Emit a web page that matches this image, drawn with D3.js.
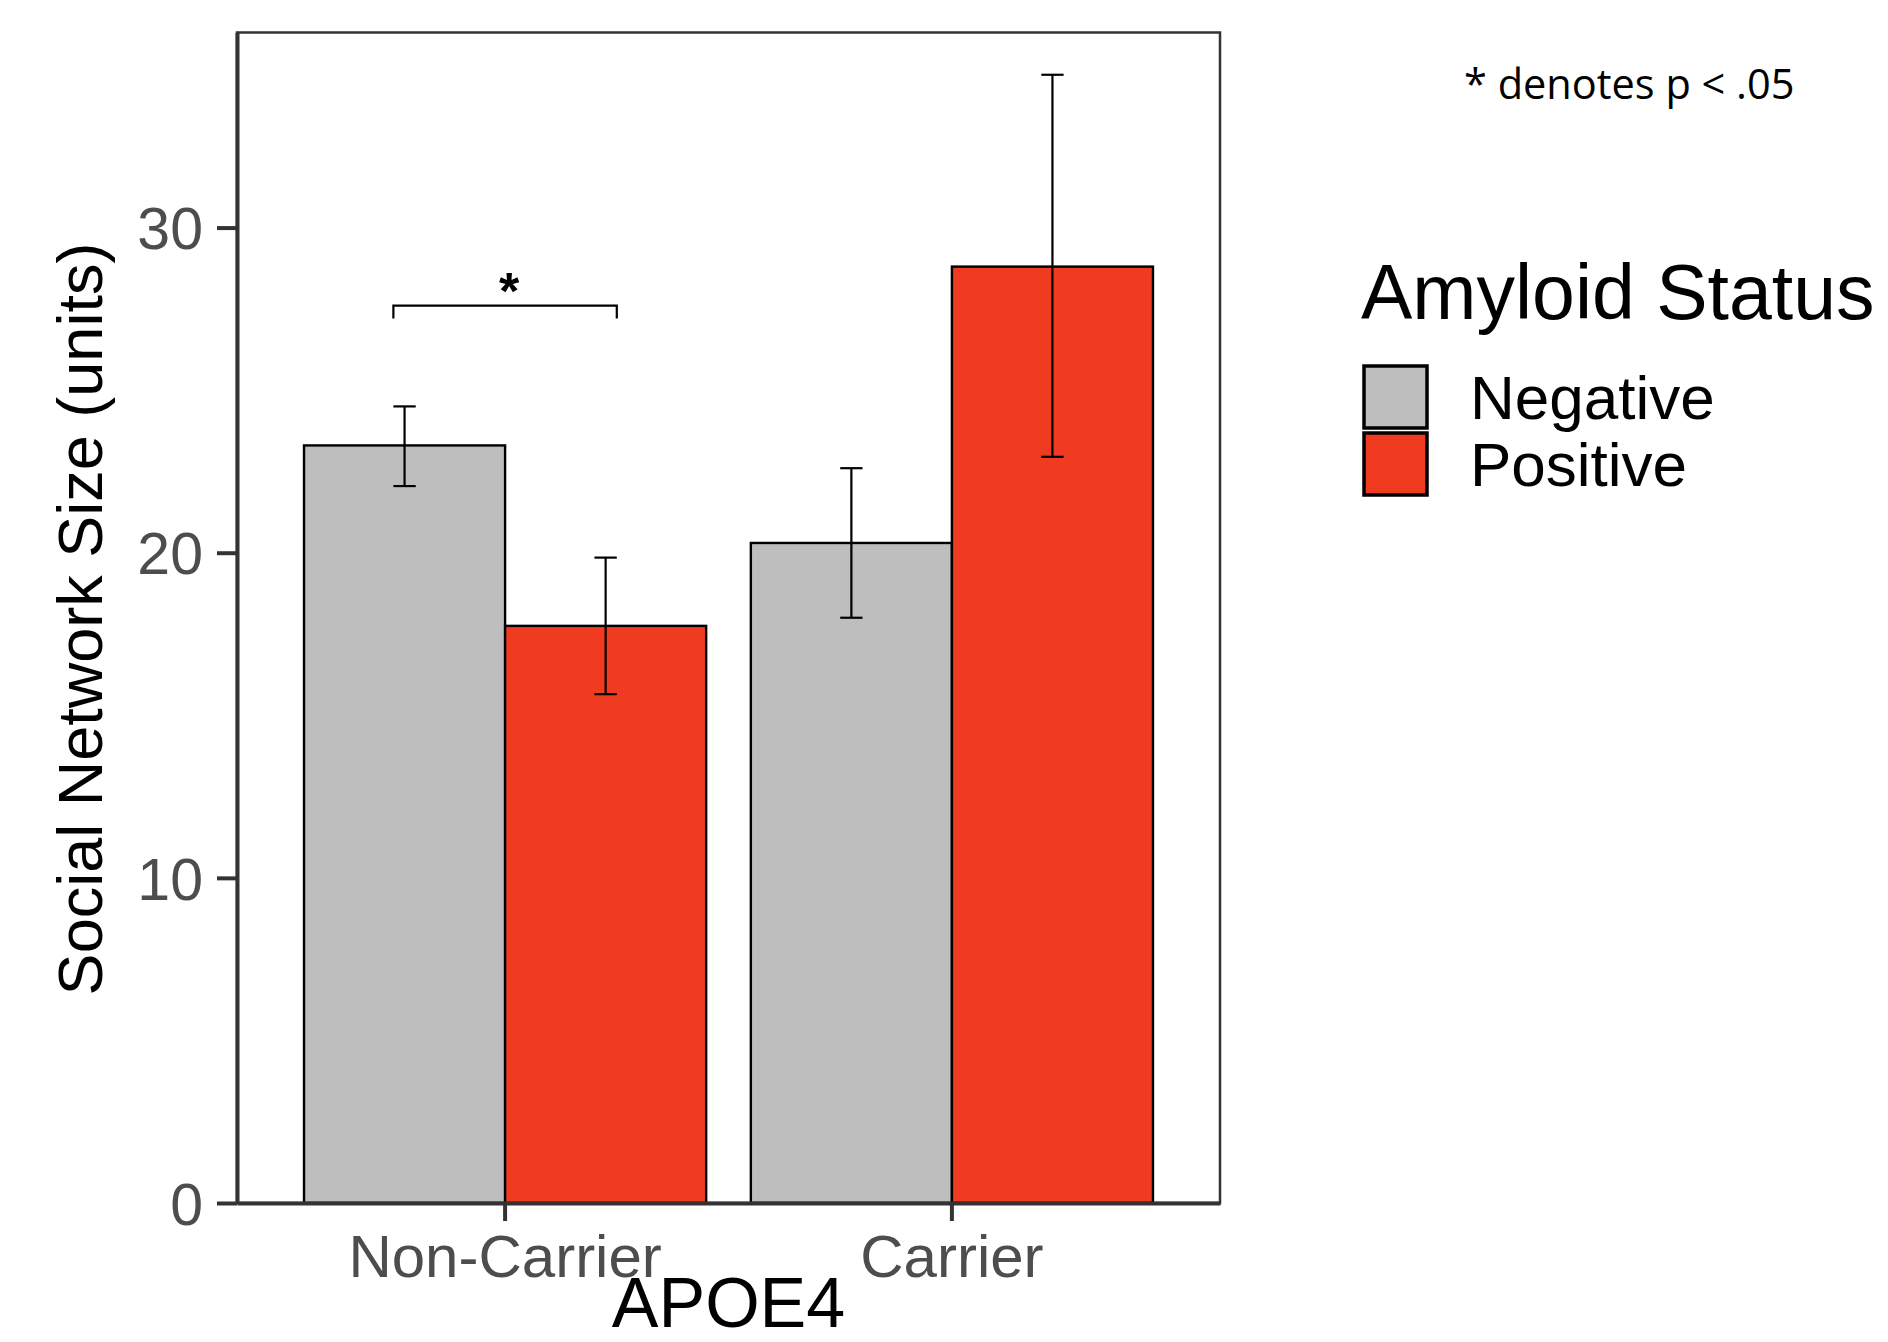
<!DOCTYPE html>
<html lang="en">
<head>
    <meta charset="UTF-8">
    <title>Social Network Size by APOE4 and Amyloid Status</title>
    <script src="https://d3js.org/d3.v7.min.js"></script>
    <style>
        body { margin: 0; background: #fff; }
        text { font-family: "Liberation Sans", Arial, sans-serif; }
        .tick-label { fill: #4d4d4d; }
        .bar { stroke: #000; stroke-width: 2.4px; }
        .err { stroke: #000; stroke-width: 2.2px; fill: none; }
    </style>
</head>
<body>
    <svg width="1888" height="1342"></svg>

    <script>
        // data
        const carriers = ["Non-Carrier", "Carrier"];
        const statuses = ["Negative", "Positive"];
        const statusColors = ["#bebebe", "#f03b21"];
        const means = [[23.3, 17.75], [20.3, 28.8]];
        const lower = [[22.05, 15.65], [18.0, 22.95]];
        const upper = [[24.5, 19.85], [22.6, 34.7]];
        const yTicks = [0, 10, 20, 30];
        // significance bracket over Non-Carrier, in band-step units around the centre
        const sigGroup = "Non-Carrier";
        const sigSpan = [-0.25, 0.25];
        const sigLevel = [27.2, 27.6];
        const sigNote = "* denotes p < .05";

        const panel = { left: 237, right: 1220, top: 32.5, bottom: 1203 };
        const svg = d3.select("svg");

        const x = d3.scaleBand()
            .domain(carriers)
            .range([panel.left, panel.right])
            .paddingInner(0)
            .paddingOuter(0.1);
        const step = x.step();

        const xSub = d3.scaleBand()
            .domain(statuses)
            .range([0.05 * step, 0.95 * step]);

        const y = d3.scaleLinear()
            .domain([0, 36])
            .range([panel.bottom, panel.top]);

        const color = d3.scaleOrdinal().domain(statuses).range(statusColors);

        const rows = [];
        carriers.forEach((c, i) => statuses.forEach((s, j) => {
            rows.push({ carrier: c, status: s, mean: means[i][j], lo: lower[i][j], hi: upper[i][j] });
        }));

        // bars
        svg.append("g").selectAll("rect")
            .data(rows)
            .join("rect")
            .attr("class", "bar")
            .attr("x", d => x(d.carrier) + xSub(d.status))
            .attr("width", xSub.bandwidth())
            .attr("y", d => y(d.mean))
            .attr("height", d => y(0) - y(d.mean))
            .attr("fill", d => color(d.status));

        // error bars
        const cap = 0.025 * step;
        const eg = svg.append("g").selectAll("g")
            .data(rows)
            .join("g")
            .attr("transform", d => `translate(${x(d.carrier) + xSub(d.status) + xSub.bandwidth() / 2},0)`);
        eg.append("line").attr("class", "err")
            .attr("x1", 0).attr("x2", 0)
            .attr("y1", d => y(d.lo)).attr("y2", d => y(d.hi));
        eg.append("line").attr("class", "err")
            .attr("x1", -cap).attr("x2", cap)
            .attr("y1", d => y(d.hi)).attr("y2", d => y(d.hi));
        eg.append("line").attr("class", "err")
            .attr("x1", -cap).attr("x2", cap)
            .attr("y1", d => y(d.lo)).attr("y2", d => y(d.lo));

        // significance bracket
        const sc = x(sigGroup) + step / 2;
        const bx0 = sc + sigSpan[0] * step, bx1 = sc + sigSpan[1] * step;
        svg.append("path")
            .attr("class", "err")
            .attr("d", `M${bx0},${y(sigLevel[0])}V${y(sigLevel[1])}H${bx1}V${y(sigLevel[0])}`);
        svg.append("text")
            .attr("x", sc + 4)
            .attr("y", y(sigLevel[1]) + 3)
            .attr("text-anchor", "middle")
            .attr("font-size", 52)
            .attr("font-weight", "bold")
            .text("*");

        // panel border
        svg.append("rect")
            .attr("x", panel.left).attr("y", panel.top)
            .attr("width", panel.right - panel.left)
            .attr("height", panel.bottom - panel.top)
            .attr("fill", "none")
            .attr("stroke", "#333")
            .attr("stroke-width", 2.5);

        // axes
        const yAxis = svg.append("g")
            .attr("transform", `translate(${panel.left},0)`)
            .call(d3.axisLeft(y).tickValues(yTicks).tickSize(20).tickSizeOuter(0).tickPadding(14));
        const xAxis = svg.append("g")
            .attr("transform", `translate(0,${panel.bottom})`)
            .call(d3.axisBottom(x).tickSize(18).tickSizeOuter(0).tickPadding(12));

        [yAxis, xAxis].forEach(a => {
            a.select(".domain").attr("stroke", "#333").attr("stroke-width", 4);
            a.selectAll(".tick line").attr("stroke", "#333").attr("stroke-width", 4);
            a.selectAll(".tick text")
                .attr("class", "tick-label")
                .attr("fill", "#4d4d4d")
                .style("font-family", '"Liberation Sans", Arial, sans-serif');
        });
        yAxis.selectAll(".tick text").attr("font-size", 59).attr("dy", "0.36em");
        xAxis.selectAll(".tick text").attr("font-size", 60).attr("dy", "0.74em");

        // axis titles
        svg.append("text")
            .attr("transform", `translate(102,619) rotate(-90)`)
            .attr("text-anchor", "middle")
            .attr("font-size", 63)
            .text("Social Network Size (units)");
        svg.append("text")
            .attr("x", (panel.left + panel.right) / 2)
            .attr("y", 1327)
            .attr("text-anchor", "middle")
            .attr("font-size", 70)
            .text("APOE4");

        // legend
        const lg = svg.append("g");
        lg.append("text")
            .attr("x", 1361).attr("y", 319)
            .attr("font-size", 77)
            .text("Amyloid Status");
        const items = lg.selectAll("g.item")
            .data(statuses)
            .join("g")
            .attr("class", "item")
            .attr("transform", (d, i) => `translate(1364,${366 + i * 67})`);
        items.append("rect")
            .attr("width", 63).attr("height", 62)
            .attr("fill", d => color(d))
            .attr("stroke", "#000")
            .attr("stroke-width", 3.5);
        items.append("text")
            .attr("x", 106).attr("y", 53)
            .attr("font-size", 62)
            .text(d => d);

        // note
        svg.append("text")
            .attr("x", 1464).attr("y", 99)
            .attr("font-size", 41.5)
            .style("font-family", '"Open Sans", sans-serif')
            .text(sigNote);
    </script>
</body>
</html>
